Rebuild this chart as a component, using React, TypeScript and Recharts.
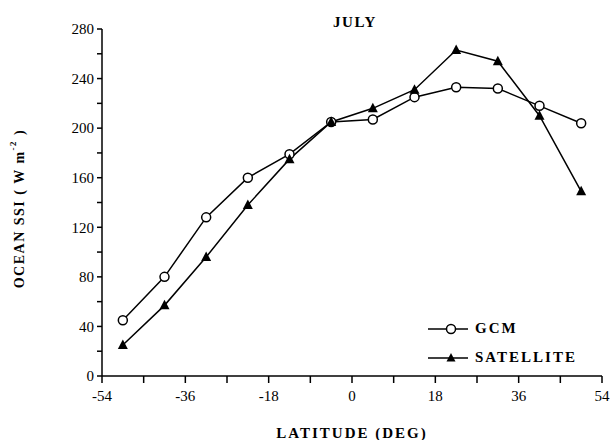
import { LineChart, Line, XAxis, YAxis } from "recharts";

const latitudes = [-49.5, -40.5, -31.5, -22.5, -13.5, -4.5, 4.5, 13.5, 22.5, 31.5, 40.5, 49.5];
const gcmValues = [45, 80, 128, 160, 179, 205, 207, 225, 233, 232, 218, 204];
const satelliteValues = [25, 57, 96, 138, 175, 205, 216, 231, 263, 254, 210, 149];
const xTicks = [-54, -45, -36, -27, -18, -9, 0, 9, 18, 27, 36, 45, 54];
const yTicks = [0, 20, 40, 60, 80, 100, 120, 140, 160, 180, 200, 220, 240, 260, 280];
const seriesNames = ["GCM", "SATELLITE"];

const data = latitudes.map((lat, i) => ({
    lat,
    gcm: gcmValues[i],
    satellite: satelliteValues[i],
}));

const FONT = "'Liberation Serif', 'DejaVu Serif', serif";

const CircleDot = (props: any) => {
    const { cx, cy } = props;
    if (cx == null || cy == null) return null;
    return <circle cx={cx} cy={cy} r={4.5} fill="#fff" stroke="#000" strokeWidth={1.5} />;
};

const TriangleDot = (props: any) => {
    const { cx, cy } = props;
    if (cx == null || cy == null) return null;
    return <path d={`M${cx},${cy - 5.5} L${cx + 5},${cy + 4} L${cx - 5},${cy + 4} Z`} fill="#000" />;
};

const LegendBox = () => (
    <div style={{ position: "absolute", left: 428, top: 314, fontFamily: FONT }}>
        {seriesNames.map((name, i) => (
            <div key={name} style={{ display: "flex", alignItems: "center", height: 29 }}>
                <svg width={44} height={14}>
                    <line x1={0} y1={7} x2={40} y2={7} stroke="#000" strokeWidth={1.5} />
                    {i === 0 ? (
                        <circle cx={23} cy={7} r={4.5} fill="#fff" stroke="#000" strokeWidth={1.5} />
                    ) : (
                        <path d="M23,2 L27.5,10.5 L18.5,10.5 Z" fill="#000" />
                    )}
                </svg>
                <span style={{ fontWeight: 700, fontSize: 15, letterSpacing: 2, marginLeft: 3 }}>{name}</span>
            </div>
        ))}
    </div>
);

const tickStyle = { fill: "#000", fontSize: 15, style: { fontFamily: FONT } };

const App = () => {
    return (
        <div style={{ position: "absolute", left: 0, top: 0, width: 612, height: 440, background: "#fff" }}>
            <div
                style={{
                    position: "absolute",
                    left: 0,
                    width: 710,
                    top: 14,
                    textAlign: "center",
                    fontFamily: FONT,
                    fontWeight: 700,
                    fontSize: 15,
                    letterSpacing: 1.5,
                }}
            >
                JULY
            </div>
            <LineChart width={612} height={440} data={data} margin={{ top: 29, right: 10, bottom: 34, left: 62 }}>
                <XAxis
                    dataKey="lat"
                    type="number"
                    domain={[-54, 54]}
                    ticks={xTicks}
                    interval={0}
                    tickFormatter={(v: number) => (v % 18 === 0 ? String(v) : "")}
                    tickSize={7}
                    tickMargin={7}
                    axisLine={{ stroke: "#000", strokeWidth: 1.5 }}
                    tickLine={{ stroke: "#000", strokeWidth: 1.5 }}
                    tick={tickStyle}
                    height={30}
                    label={{
                        content: (p: any) => (
                            <text
                                x={p.viewBox.x + p.viewBox.width / 2}
                                y={438}
                                textAnchor="middle"
                                style={{ fontFamily: FONT }}
                                fontWeight={700}
                                fontSize={15}
                                letterSpacing={2}
                                fill="#000"
                            >
                                LATITUDE  (DEG)
                            </text>
                        ),
                    }}
                />
                <YAxis
                    type="number"
                    domain={[0, 280]}
                    ticks={yTicks}
                    interval={0}
                    tickFormatter={(v: number) => (v % 40 === 0 ? String(v) : "")}
                    tickSize={5}
                    tickMargin={3}
                    width={40}
                    axisLine={{ stroke: "#000", strokeWidth: 1.5 }}
                    tickLine={{ stroke: "#000", strokeWidth: 1.5 }}
                    tick={tickStyle}
                    label={{
                        content: (p: any) => {
                            const cy = p.viewBox.y + p.viewBox.height / 2 + 6;
                            return (
                                <text
                                    x={19}
                                    y={cy}
                                    transform={`rotate(-90, 19, ${cy})`}
                                    textAnchor="middle"
                                    dominantBaseline="central"
                                    style={{ fontFamily: FONT }}
                                    fontWeight={700}
                                    fontSize={14}
                                    letterSpacing={1.5}
                                    fill="#000"
                                >
                                    OCEAN SSI ( W m
                                    <tspan dy={-6} fontSize={9}>-2</tspan>
                                    <tspan dy={6}> )</tspan>
                                </text>
                            );
                        },
                    }}
                />
                <Line
                    type="linear"
                    dataKey="gcm"
                    name={seriesNames[0]}
                    stroke="#000"
                    strokeWidth={1.5}
                    dot={(p: any) => <CircleDot key={`g${p.index}`} {...p} />}
                    isAnimationActive={false}
                />
                <Line
                    type="linear"
                    dataKey="satellite"
                    name={seriesNames[1]}
                    stroke="#000"
                    strokeWidth={1.5}
                    dot={(p: any) => <TriangleDot key={`s${p.index}`} {...p} />}
                    isAnimationActive={false}
                />
            </LineChart>
            <LegendBox />
        </div>
    );
};

export default App;
